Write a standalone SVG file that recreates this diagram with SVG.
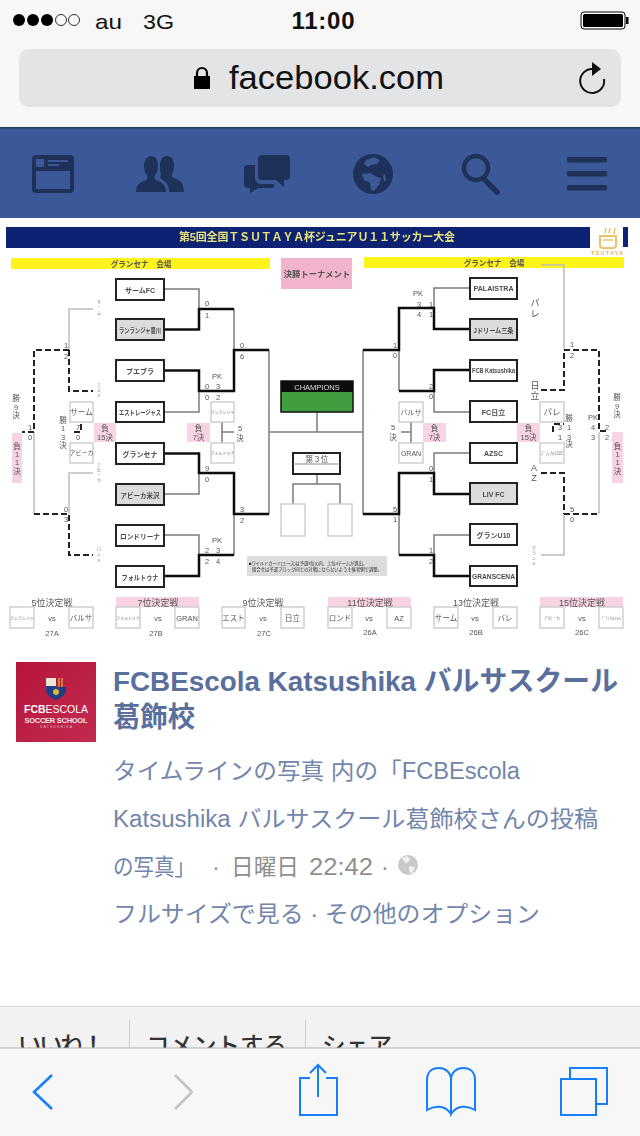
<svg xmlns="http://www.w3.org/2000/svg" width="640" height="1136" viewBox="0 0 640 1136">
<defs>
<style>
text{font-family:"Liberation Sans","Noto Sans CJK JP",sans-serif}
.t{font-size:7px;fill:#4a4a4a;text-anchor:middle;font-weight:bold}
.y{font-size:7.600px;fill:#555;text-anchor:middle;font-weight:bold}
.s{font-size:7.500px;fill:#555;text-anchor:middle}
.n{font-size:9px;fill:#555;text-anchor:middle}
.v{font-size:4px;fill:#777;text-anchor:middle}
.b{fill:#fff;stroke:#222;stroke-width:2}
.g{fill:#dcdcdc;stroke:#222;stroke-width:2}
.w{fill:#fff;stroke:#ccc;stroke-width:1.400}
.p{fill:#f7d3e3}
.thin{fill:none;stroke:#7c7c7c;stroke-width:1.500}
.lite{fill:none;stroke:#bdbdbd;stroke-width:1.500}
.thick{fill:none;stroke:#111;stroke-width:2.500}
.dash{fill:none;stroke:#222;stroke-width:2;stroke-dasharray:6 3}
.ic{fill:#1e3158}
.tb{fill:none;stroke:#147efb;stroke-width:2}
.h{font-size:28px;font-weight:bold;fill:#5a6f9c}
.l{font-size:23px;fill:#7286aa}
.m{font-size:23px;fill:#8f8f8f}
.a{font-size:23.500px;font-weight:500;fill:#333}
</style>
<filter id="soft" x="0" y="0" width="1" height="1"><feGaussianBlur stdDeviation="0.5"/></filter>
<linearGradient id="red" x1="0" y1="0" x2="1" y2="1"><stop offset="0" stop-color="#b5163a"/><stop offset="1" stop-color="#c32a50"/></linearGradient>
</defs>
<rect width="640" height="1136" fill="#fff"/>

<g id="browser-top">
<rect width="640" height="127" fill="#f7f7f7"/>
<g fill="#000"><circle cx="19" cy="20" r="6"/><circle cx="33" cy="20" r="6"/><circle cx="47" cy="20" r="6"/></g>
<g fill="none" stroke="#000" stroke-width="0.800"><circle cx="61" cy="20" r="5.500"/><circle cx="74" cy="20" r="5.500"/></g>
<text x="95" y="29" font-size="21" fill="#111" textLength="27" lengthAdjust="spacingAndGlyphs">au</text>
<text x="143" y="29" font-size="21" fill="#111" textLength="31" lengthAdjust="spacingAndGlyphs">3G</text>
<text x="323" y="29" font-size="24" font-weight="bold" fill="#111" text-anchor="middle" textLength="63">11:00</text>
<rect x="581" y="12" width="44" height="17" rx="3" fill="#fff" stroke="#000" stroke-width="1"/>
<rect x="583" y="14" width="40" height="13" rx="1.500" fill="#000"/>
<rect x="626" y="17" width="2.500" height="7" fill="#000"/>
<rect x="19" y="49" width="602" height="58" rx="10" fill="#e3e4e6"/>
<rect x="194" y="76" width="16" height="13" fill="#000"/>
<path d="M197 76v-3a5 5 0 0 1 10 0v3" fill="none" stroke="#000" stroke-width="2.200"/>
<text x="229" y="89" font-size="34" fill="#111" textLength="215" lengthAdjust="spacingAndGlyphs">facebook.com</text>
<path d="M592 69a12 12 0 1 0 12 10" fill="none" stroke="#111" stroke-width="2"/>
<path d="M592 62l9 7-9 7z" fill="#111"/>
</g>

<g id="nav-bar">
<rect y="127" width="640" height="91" fill="#3b5998"/>
<rect y="127" width="640" height="1.500" fill="#25395f"/>
<rect class="ic" x="32" y="155" width="42" height="38" rx="4"/>
<rect x="36" y="171" width="34" height="18" rx="1" fill="#3b5998"/>
<rect x="36" y="159" width="8" height="8" fill="#3b5998"/>
<rect x="48" y="160" width="20" height="2" fill="#3b5998"/><rect x="48" y="164" width="11" height="2" fill="#3b5998"/>
<path class="ic" d="M136 192c0-9 6-10 10-12 2-1 2-3 1-5-2-2-3-6-3-9 0-7 4-10 7-10 4 0 7 3 7 10 0 3-1 7-3 9-1 2-1 4 1 5 4 2 10 3 10 12z"/>
<path class="ic" d="M169 192c0-8-3-10-8-13-1-1-1-3 0-5-1-2-1-5-1-8 0-7 3-10 7-10 4 0 7 3 7 9 0 4-1 7-2 9-1 2 0 3 2 4 4 2 10 3 10 14z"/>
<path class="ic" d="M262 155h24a4 4 0 0 1 4 4v17a4 4 0 0 1-4 4h-2v7l-8-7h-14a4 4 0 0 1-4-4v-17a4 4 0 0 1 4-4z"/>
<path class="ic" d="M255 165v13a6 6 0 0 0 6 6h13v2a2 2 0 0 1-2 2h-14l-8 5v-5h-2a4 4 0 0 1-4-4v-15a4 4 0 0 1 4-4z"/>
<ellipse class="ic" cx="373" cy="174" rx="20" ry="20"/>
<path d="M366 160l8-3 6 3-3 4-6 1-3 2-4-3zM362 174l8-1 5 3 6 2-2 7-5 6-3-1-1-7-6-3zM383 176l2-2 1 6-2 2z" fill="#3b5998"/>
<circle cx="476" cy="168" r="12" fill="none" stroke="#1e3158" stroke-width="4.500"/>
<path d="M484 179l13 13" stroke="#1e3158" stroke-width="5.500" stroke-linecap="round"/>
<rect class="ic" x="567" y="157" width="40" height="5.500" rx="1.500"/><rect class="ic" x="567" y="171" width="40" height="5.500" rx="1.500"/><rect class="ic" x="567" y="185" width="40" height="5.500" rx="1.500"/>
</g>

<g id="photo" filter="url(#soft)">
<g id="banner">
<rect x="6" y="227" width="584" height="21" fill="#0b2272"/>
<rect x="623" y="227" width="5" height="20" fill="#0b2272"/>
<text x="317" y="241" font-size="11" font-weight="bold" fill="#e8e27a" text-anchor="middle" textLength="276">第5回全国ＴＳＵＴＡＹＡ杯ジュニアＵ１１サッカー大会</text>
<rect x="11" y="258" width="259" height="11" fill="#fff31a"/>
<text x="141" y="266.500" class="y">グランセナ　会場</text>
<rect x="364" y="257" width="260" height="11" fill="#fff31a"/>
<text x="494" y="265.500" class="y">グランセナ　会場</text>
<rect x="281" y="258" width="71" height="31" fill="#f2b4cd"/>
<text x="317" y="277" class="y" font-size="8.300" style="font-size:8.300px">決勝トーナメント</text>
</g>
<g id="tsutaya-logo">
<path d="M600 236h16v9a3 3 0 0 1-3 3h-10a3 3 0 0 1-3-3z" fill="none" stroke="#e8c36a" stroke-width="2"/>
<path d="M603 240h10M606 228l-1 5M610 228l-1 5M615 228l-1 6" stroke="#e8c36a" stroke-width="1.500" fill="none"/>
<text x="607" y="255" font-size="5.500" font-weight="bold" fill="#e3b34f" text-anchor="middle" textLength="32">TSUTAYA</text>
</g>

<g id="connectors">
<path class="thin" d="M164 289H199V309M234 309V350M269 350V514M164 412H199V391M164 494H199V473M234 514V555M164 535H199V555"/>
<path class="thick" d="M164 329.500H199V309H234M164 370.500H199V391H234V350H269M164 453.500H199V473H234V514H269M234 555H199V576H164"/>
<path class="thin" d="M470 288H434V308M399 350V391M434 391V412H470M470 453H434V473M399 514V555M470 535H434V555M363 350V514"/>
<path class="thick" d="M363 350H399V308H434V329H470M399 391H434V370H470M363 514H399V473H434V494H470M399 555H434V576H470"/>
<path class="thin" d="M269 432H363M317 412V432M317 474V484M293 504V484H340V504M222 422V443M222 432H234M411 422V443M411 432H401"/>
<path class="lite" d="M93 309H69V350M34 432V514M93 473H69V514M541 265H564V350M599 432V514M564 514V555H541"/>
<path class="dash" d="M69 350H34V432H22M69 350V391H93M34 514H69V555H93M74 432H81V424M541 390H564V350H599V431H607M541 473H564V514M564 514H599M553 432V424H564"/>
</g>

<g id="team-sam"><rect class="b" x="116" y="279" width="48" height="21"/><text class="t" x="140" y="292.500">サームFC</text></g>
<g id="team-rangers"><rect class="g" x="116" y="319" width="48" height="21"/><text class="t" x="140" y="332.500" textLength="42" lengthAdjust="spacingAndGlyphs">ランランジャ豊川</text></g>
<g id="team-puebla"><rect class="b" x="116" y="360" width="48" height="21"/><text class="t" x="140" y="373.500">プエブラ</text></g>
<g id="team-estrellas"><rect class="b" x="116" y="402" width="48" height="20"/><text class="t" x="140" y="415" textLength="42" lengthAdjust="spacingAndGlyphs">エストレージャス</text></g>
<g id="team-gransena"><rect class="b" x="116" y="443" width="48" height="21"/><text class="t" x="140" y="456.500">グランセナ</text></g>
<g id="team-abika"><rect class="g" x="116" y="484" width="48" height="21"/><text class="t" x="140" y="497.500" textLength="39" lengthAdjust="spacingAndGlyphs">アビーカ米沢</text></g>
<g id="team-londrina"><rect class="b" x="116" y="525" width="48" height="21"/><text class="t" x="140" y="538.500" textLength="40" lengthAdjust="spacingAndGlyphs">ロンドリーナ</text></g>
<g id="team-fortuna"><rect class="b" x="116" y="566" width="48" height="21"/><text class="t" x="140" y="579.500" textLength="37" lengthAdjust="spacingAndGlyphs">フォルトゥナ</text></g>
<g id="team-palaistra"><rect class="b" x="470" y="278" width="47" height="21"/><text class="t" x="493.500" y="291" textLength="40" lengthAdjust="spacingAndGlyphs">PALAISTRA</text></g>
<g id="team-jdream"><rect class="g" x="470" y="319" width="47" height="21"/><text class="t" x="493.500" y="332.500" textLength="40" lengthAdjust="spacingAndGlyphs">Jドリーム三条</text></g>
<g id="team-fcb"><rect class="b" x="470" y="360" width="47" height="21"/><text class="t" x="493.500" y="373" textLength="43" lengthAdjust="spacingAndGlyphs">FCB Katsushika</text></g>
<g id="team-hitachi"><rect class="b" x="470" y="401" width="47" height="21"/><text class="t" x="493.500" y="414.500">FC日立</text></g>
<g id="team-azsc"><rect class="b" x="470" y="443" width="47" height="20"/><text class="t" x="493.500" y="456">AZSC</text></g>
<g id="team-liv"><rect class="g" x="470" y="483" width="47" height="21"/><text class="t" x="493.500" y="496.500">LIV FC</text></g>
<g id="team-granu10"><rect class="b" x="470" y="524" width="47" height="21"/><text class="t" x="493.500" y="537.500">グランU10</text></g>
<g id="team-granscena"><rect class="b" x="470" y="566" width="47" height="20"/><text class="t" x="493.500" y="579" textLength="43" lengthAdjust="spacingAndGlyphs">GRANSCENA</text></g>

<g id="champions">
<rect x="281" y="381" width="72" height="31" fill="#3f9e3f" stroke="#111" stroke-width="1.500"/>
<rect x="281" y="381" width="72" height="11" fill="#111"/>
<text x="317" y="389.500" font-size="7.500" fill="#ddd" text-anchor="middle">CHAMPIONS</text>
</g>
<g id="third-place">
<rect x="293" y="453" width="47" height="21" fill="#fff" stroke="#222" stroke-width="2"/>
<path d="M293 464H340" stroke="#888"/>
<text x="317" y="462" class="y" style="font-weight:normal">第３位</text>
<rect class="w" x="281" y="504" width="24" height="32"/>
<rect class="w" x="328" y="504" width="24" height="32"/>
</g>

<g id="small-boxes">
<rect class="w" x="211" y="402" width="23" height="20"/><text class="v" x="222.500" y="414">ランランジャ</text>
<rect class="w" x="211" y="443" width="23" height="20"/><text class="v" x="222.500" y="455">フォルトゥナ</text>
<rect class="w" x="70" y="402" width="23" height="20"/><text class="s" x="81.500" y="415">サーム</text>
<rect class="w" x="70" y="443" width="23" height="20"/><text class="s" x="81.500" y="455" style="font-size:6px">アビーカ</text>
<rect class="w" x="399" y="402" width="24" height="20"/><text class="s" x="411" y="414.500" style="font-size:7px">バルサ</text>
<rect class="w" x="399" y="443" width="24" height="20"/><text class="s" x="411" y="456" style="font-size:7px">GRAN</text>
<rect class="w" x="540" y="402" width="24" height="20"/><text class="s" x="552" y="415" style="font-size:8.500px">バレ</text>
<rect class="w" x="540" y="443" width="24" height="20"/><text class="v" x="552" y="455" style="font-size:4.500px">ﾃﾞﾌｨｱﾙU10</text>
</g>

<g id="pink-labels">
<rect class="p" x="94" y="423" width="22" height="19"/><text class="s" x="105" y="431">負</text><text class="s" x="105" y="440">15決</text>
<rect class="p" x="187" y="423" width="23" height="19"/><text class="s" x="198.500" y="431">負</text><text class="s" x="198.500" y="440">7決</text>
<rect class="p" x="423" y="423" width="23" height="19"/><text class="s" x="434.500" y="431">負</text><text class="s" x="434.500" y="440">7決</text>
<rect class="p" x="517" y="423" width="23" height="19"/><text class="s" x="528.500" y="431">負</text><text class="s" x="528.500" y="440">15決</text>
<rect class="p" x="12" y="433" width="10" height="50"/>
<text class="s" x="17" y="449">負</text><text class="s" x="17" y="457">1</text><text class="s" x="17" y="465">1</text><text class="s" x="17" y="474">決</text>
<rect class="p" x="612" y="432" width="11" height="51"/>
<text class="s" x="617.500" y="449">負</text><text class="s" x="617.500" y="457">1</text><text class="s" x="617.500" y="465">1</text><text class="s" x="617.500" y="474">決</text>
</g>

<g id="scores">
<text class="s" x="207" y="306">0</text><text class="s" x="207" y="318">1</text>
<text class="s" x="242" y="348">0</text><text class="s" x="242" y="359">6</text>
<text class="s" x="217" y="379">PK</text>
<text class="s" x="207" y="389">0</text><text class="s" x="218" y="389">3</text><text class="s" x="207" y="400">0</text><text class="s" x="218" y="400">2</text>
<text class="s" x="207" y="471">9</text><text class="s" x="207" y="482">0</text>
<text class="s" x="242" y="512">3</text><text class="s" x="242" y="523">2</text>
<text class="s" x="217" y="543">PK</text>
<text class="s" x="207" y="553">2</text><text class="s" x="218" y="553">3</text><text class="s" x="207" y="564">2</text><text class="s" x="218" y="564">4</text>
<text class="s" x="66" y="348">1</text><text class="s" x="66" y="359">2</text>
<text class="s" x="66" y="512">0</text><text class="s" x="66" y="522">3</text>
<text class="s" x="30" y="430">1</text><text class="s" x="30" y="440">0</text>
<text class="s" x="78" y="430">7</text><text class="s" x="78" y="440">0</text>
<text class="s" x="63" y="423">勝</text><text class="s" x="63" y="431">1</text><text class="s" x="63" y="440">3</text><text class="s" x="63" y="448">決</text>
<text class="s" x="16" y="401">勝</text><text class="s" x="16" y="410">9</text><text class="s" x="16" y="418">決</text>
<text class="s" x="240" y="431">5</text><text class="s" x="240" y="441">決</text>
<text class="s" x="393" y="430">5</text><text class="s" x="393" y="440">決</text>
<text class="s" x="418" y="296">PK</text>
<text class="s" x="419" y="307">3</text><text class="s" x="431" y="307">1</text><text class="s" x="419" y="317">4</text><text class="s" x="431" y="317">1</text>
<text class="s" x="395" y="348">1</text><text class="s" x="395" y="358">0</text>
<text class="s" x="431" y="389">2</text><text class="s" x="431" y="399">0</text>
<text class="s" x="431" y="471">0</text><text class="s" x="431" y="482">1</text>
<text class="s" x="395" y="512">5</text><text class="s" x="395" y="522">1</text>
<text class="s" x="431" y="553">1</text><text class="s" x="431" y="564">2</text>
<text class="s" x="572" y="347">1</text><text class="s" x="572" y="358">2</text>
<text class="s" x="572" y="512">5</text><text class="s" x="572" y="522">0</text>
<text class="s" x="560" y="430">3</text><text class="s" x="560" y="440">1</text>
<text class="s" x="569" y="421">勝</text><text class="s" x="569" y="430">1</text><text class="s" x="569" y="440">3</text><text class="s" x="569" y="447">決</text>
<text class="s" x="593" y="420">PK</text>
<text class="s" x="593" y="430">4</text><text class="s" x="593" y="440">3</text><text class="s" x="607" y="430">2</text><text class="s" x="607" y="440">2</text>
<text class="s" x="617" y="400">勝</text><text class="s" x="617" y="409">9</text><text class="s" x="617" y="417">決</text>
</g>

<g id="vertical-names">
<text class="v" x="99" y="304">サ</text><text class="v" x="99" y="309">ー</text><text class="v" x="99" y="315">ム</text>
<text class="v" x="99" y="387">エ</text><text class="v" x="99" y="392">ス</text><text class="v" x="99" y="397">ト</text>
<text class="v" x="99" y="467">ア</text><text class="v" x="99" y="472">ビ</text><text class="v" x="99" y="477">ー</text><text class="v" x="99" y="482">カ</text>
<text class="v" x="99" y="551">ロ</text><text class="v" x="99" y="556">ン</text><text class="v" x="99" y="562">ド</text>
<text class="s" x="535" y="306" style="font-size:9px">バ</text><text class="s" x="535" y="317" style="font-size:9px">レ</text>
<text class="s" x="535" y="389" style="font-size:9px">日</text><text class="s" x="535" y="399" style="font-size:9px">立</text>
<text class="s" x="534" y="471" style="font-size:9px">A</text><text class="s" x="534" y="481" style="font-size:9px">Z</text>
<text class="v" x="534" y="550">グ</text><text class="v" x="534" y="555">ラ</text><text class="v" x="534" y="560">ン</text><text class="v" x="534" y="565">U</text>
</g>

<g id="note">
<rect x="247" y="556" width="140" height="20" fill="#dcdcdc"/>
<text x="249" y="565" font-size="4.400" fill="#333" textLength="118">■ワイルドカード(エース)は予選3位の内、上位4チームが進出。</text>
<text x="252" y="571" font-size="4.400" fill="#333" textLength="130">組合せは予選ブロック同士の対戦にならないよう主催者側で調整。</text>
</g>

<g id="place-5"><text class="n" x="52" y="606">5位決定戦</text><rect class="w" x="10" y="607" width="24" height="21"/><rect class="w" x="69" y="607" width="24" height="21"/><text class="v" x="22" y="619.500">ランランジャ</text><text class="s" x="81" y="621">バルサ</text><text class="s" x="52" y="621">vs</text><text class="s" x="52" y="636">27A</text></g>
<g id="place-7"><rect class="p" x="116" y="597" width="83" height="10"/><text class="n" x="158" y="606">7位決定戦</text><rect class="w" x="116" y="607" width="24" height="21"/><rect class="w" x="175" y="607" width="24" height="21"/><text class="v" x="128" y="619.500">フォルトゥナ</text><text class="s" x="187" y="621">GRAN</text><text class="s" x="158" y="621">vs</text><text class="s" x="156" y="636">27B</text></g>
<g id="place-9"><text class="n" x="263" y="606">9位決定戦</text><rect class="w" x="222" y="607" width="23" height="21"/><rect class="w" x="281" y="607" width="23" height="21"/><text class="s" x="233.500" y="621">エスト</text><text class="s" x="292.500" y="621">日立</text><text class="s" x="263" y="621">vs</text><text class="s" x="264" y="636">27C</text></g>
<g id="place-11"><rect class="p" x="328" y="597" width="83" height="10"/><text class="n" x="370" y="606">11位決定戦</text><rect class="w" x="328" y="607" width="24" height="21"/><rect class="w" x="387" y="607" width="24" height="21"/><text class="s" x="340" y="621">ロンド</text><text class="s" x="399" y="621">AZ</text><text class="s" x="369" y="621">vs</text><text class="s" x="370" y="635">26A</text></g>
<g id="place-13"><text class="n" x="476" y="606">13位決定戦</text><rect class="w" x="434" y="607" width="24" height="21"/><rect class="w" x="493" y="607" width="24" height="21"/><text class="s" x="446" y="621">サーム</text><text class="s" x="505" y="621">バレ</text><text class="s" x="475" y="621">vs</text><text class="s" x="476" y="635">26B</text></g>
<g id="place-15"><rect class="p" x="540" y="597" width="83" height="10"/><text class="n" x="582" y="606">15位決定戦</text><rect class="w" x="540" y="607" width="24" height="21"/><rect class="w" x="599" y="607" width="24" height="21"/><text class="v" x="552" y="619.500">アビーカ</text><text class="v" x="611" y="619.500">ﾃﾞﾌｨｱﾙU10</text><text class="s" x="582" y="621">vs</text><text class="s" x="582" y="635">26C</text></g>
</g>

<g id="page-logo">
<rect x="16" y="662" width="80" height="80" fill="url(#red)"/>
<path d="M46 678H66V690C66 695 60 698 56 700C52 698 46 695 46 690Z" fill="#1d3f86"/>
<rect x="46" y="678" width="10" height="8" fill="#f0e6d8"/>
<path d="M56 678h10v9H56z" fill="#b5243a"/>
<path d="M59 678v9M62 678v9" stroke="#e3b53a" stroke-width="1.200"/>
<circle cx="56" cy="692" r="3" fill="#e3b53a"/>
<text x="56" y="713" font-size="10.500" fill="#fff" text-anchor="middle" textLength="64"><tspan font-weight="bold">FCB</tspan>ESCOLA</text>
<text x="56" y="722.500" font-size="7.500" font-weight="bold" fill="#f5e6ea" text-anchor="middle" textLength="63">SOCCER SCHOOL</text>
<text x="56" y="727.500" font-size="3.500" fill="#e8b8c4" text-anchor="middle" textLength="32">KATSUSHIKA</text>
</g>

<g id="post-text">
<text class="h" x="113" y="691" textLength="505" lengthAdjust="spacingAndGlyphs">FCBEscola Katsushika バルサスクール</text>
<text class="h" x="113" y="727" textLength="82" lengthAdjust="spacingAndGlyphs">葛飾校</text>
<text class="l" x="113" y="779" textLength="407" lengthAdjust="spacingAndGlyphs">タイムラインの写真 内の「FCBEscola</text>
<text class="l" x="113" y="827" textLength="485" lengthAdjust="spacingAndGlyphs">Katsushika バルサスクール葛飾校さんの投稿</text>
<text class="l" x="113" y="875" textLength="82" lengthAdjust="spacingAndGlyphs">の写真」</text>
<text class="m" x="212" y="875">·</text>
<text class="m" x="231" y="875" textLength="68" lengthAdjust="spacingAndGlyphs">日曜日</text>
<text class="m" x="309" y="875" textLength="64" lengthAdjust="spacingAndGlyphs">22:42</text>
<text class="m" x="381" y="875">·</text>
<circle cx="408" cy="865" r="10" fill="#c9c9c9"/>
<path d="M402 858l6-2 2 4-4 4zM409 866l6 1-3 7-3-3z" fill="#f0f0f0"/>
<text class="l" x="113" y="922" textLength="427" lengthAdjust="spacingAndGlyphs">フルサイズで見る · その他のオプション</text>
</g>

<g id="action-bar">
<rect y="1006" width="640" height="42" fill="#f2f2f2"/>
<rect y="1006" width="640" height="1" fill="#d8d8d8"/>
<rect x="129" y="1020" width="1" height="28" fill="#ccc"/><rect x="305" y="1020" width="1" height="28" fill="#ccc"/>
<text class="a" x="18" y="1054" textLength="87">いいね！</text>
<text class="a" x="146" y="1054" textLength="141">コメントする</text>
<text class="a" x="322" y="1054" textLength="70">シェア</text>
</g>

<g id="browser-toolbar">
<rect y="1048" width="640" height="88" fill="#f7f7f8"/>
<rect y="1047.500" width="640" height="1" fill="#b2b2b2"/>
<path class="tb" d="M52 1075L34 1092L52 1109" style="stroke-width:2.500"/>
<path d="M175 1075L192 1092L175 1109" fill="none" stroke="#c4c4c4" stroke-width="2.500"/>
<path class="tb" d="M310 1078H300V1115H337V1078H326M318 1097V1065M310 1073L318 1065L326 1073"/>
<path class="tb" d="M451 1114C445 1105 435 1105 427 1110V1080C427 1072 432 1068 439 1068C445 1068 451 1072 451 1080V1114C457 1105 467 1105 475 1110V1080C475 1072 470 1068 463 1068C457 1068 451 1072 451 1080"/>
<rect class="tb" x="561" y="1079" width="35" height="36"/>
<path class="tb" d="M570 1078V1068H607V1104H597"/>
</g>
</svg>
